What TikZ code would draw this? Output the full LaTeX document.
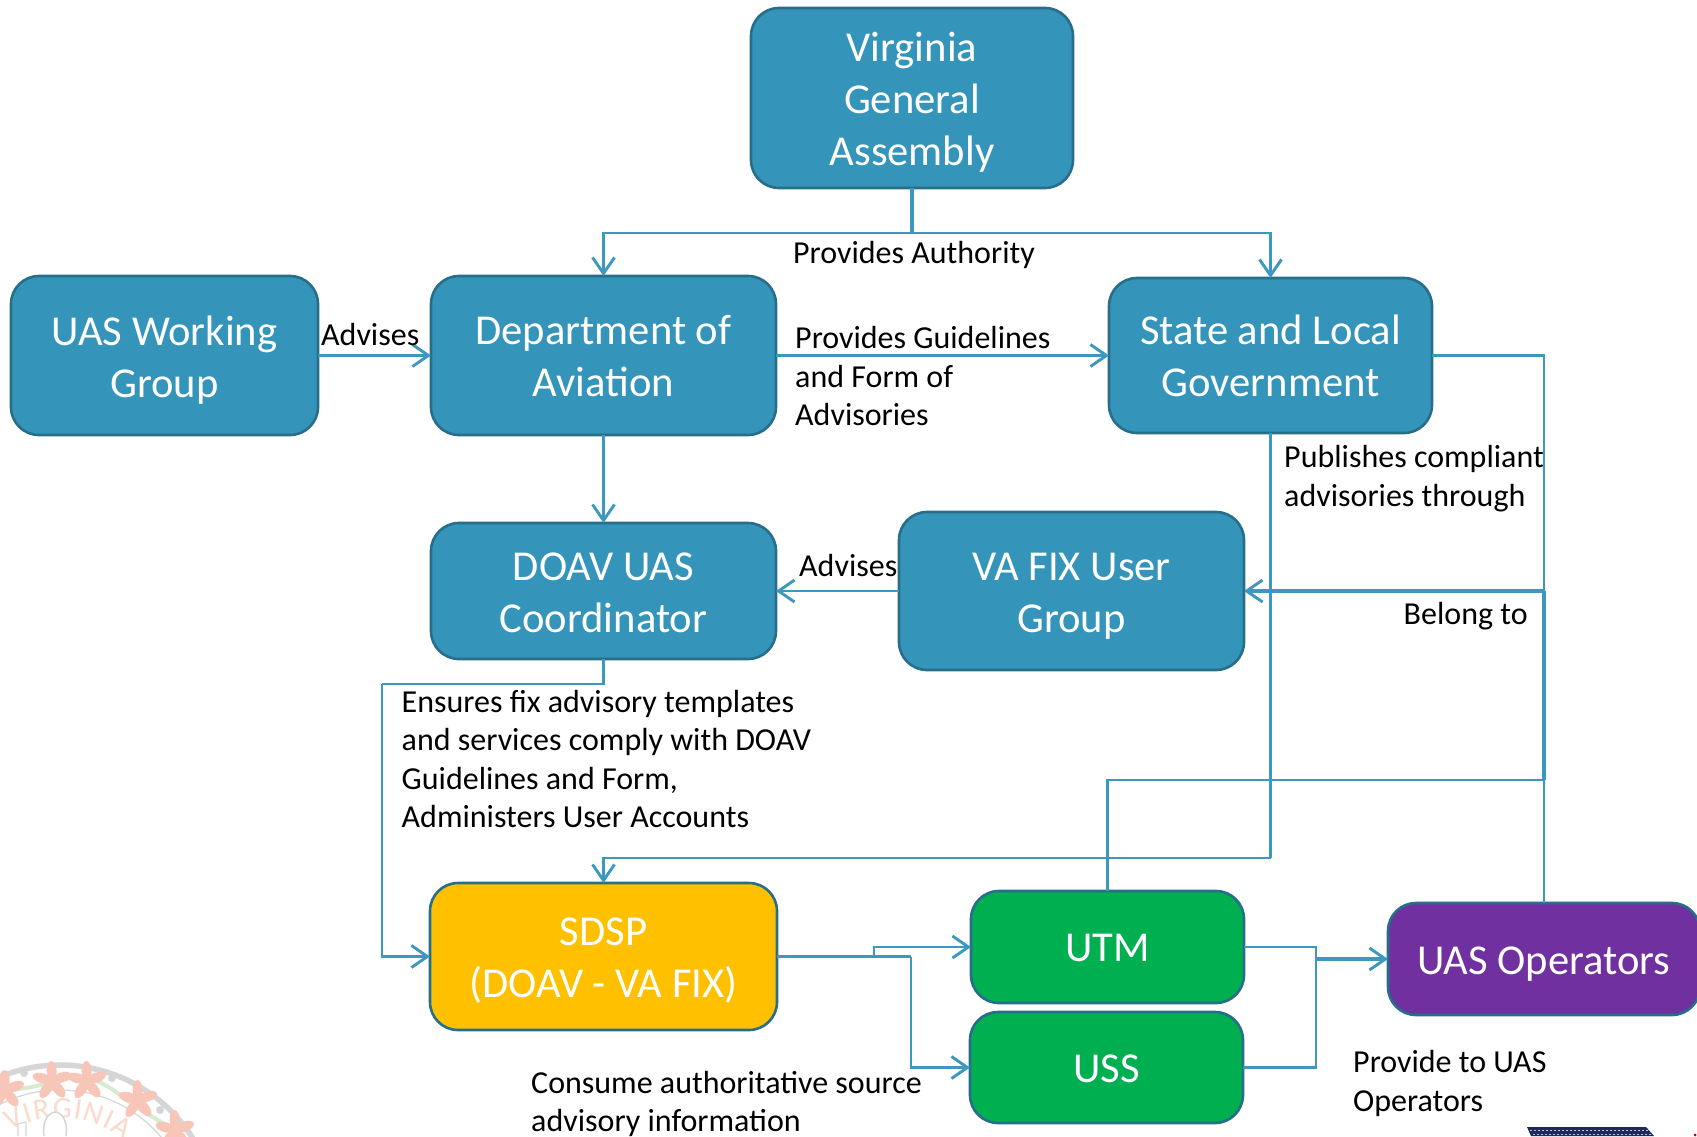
\documentclass[tikz,border=0pt]{standalone}
\usepackage{fontspec}
\setmainfont{Carlito}
\usetikzlibrary{arrows.meta,decorations.text}
\definecolor{boxblue}{HTML}{3494BA}
\definecolor{boxedge}{HTML}{276E8B}
\definecolor{sdspfill}{HTML}{FFC000}
\definecolor{utmfill}{HTML}{00B050}
\definecolor{opsfill}{HTML}{7030A0}
\definecolor{linkblue}{HTML}{3C98BE}
\definecolor{sealgrey}{HTML}{D6D6D6}
\definecolor{sealred}{HTML}{F8C6B8}
\definecolor{sealgreen}{HTML}{D6ECD0}
\definecolor{sealtext}{HTML}{FADBCB}
\definecolor{logonavy}{HTML}{1E2A5C}
\newcommand{\tdn}[2]{\raisebox{-#1pt}[\height][\depth]{\begin{tabular}{@{}c@{}}#2\end{tabular}}}
\tikzset{
  box/.style={draw=boxedge,fill=boxblue,line width=2.6pt,rounded corners=28pt,outer sep=0pt,
    text=white,align=center,font=\fontsize{42.6}{51.8}\selectfont},
  greenbox/.style={box,fill=utmfill},
  link/.style={draw=linkblue,line width=2.9pt},
  heavylink/.style={link,line width=3.9pt},
  arr/.style={link,-{Straight Barb[length=16pt,width=22pt,line width=2.9pt]}},
  lbl/.style={align=left,anchor=west,inner sep=0pt,text=black,font=\fontsize{32}{38.5}\selectfont},
}
\begin{document}
\begin{tikzpicture}[x=1pt,y=-1pt]
\useasboundingbox (0,0) rectangle (1697,1136);
\clip (0,0) rectangle (1697,1136);
\fill[white] (0,0) rectangle (1697,1136);

% seal, faded, bottom left
\draw[sealgrey,line width=5.5pt] (60,1222) circle[radius=157];
\draw[sealgrey,line width=1.2pt] (60,1222) circle[radius=132];
\foreach \aa/\ab in {-48/-26,-20/6,8/30,30/56}
  \draw[sealgreen,line width=4pt] plot[domain=\aa:\ab,samples=12] ({60+(142+4*sin(8*\x))*sin(\x)},{1222-(142+4*sin(8*\x))*cos(\x)});
\foreach \fx/\fy in {5/1090,52/1081,87/1081,138/1100,175/1130}
  \foreach \p in {20,92,164,236,308}
    \fill[sealred,shift={(\fx,\fy)},rotate=\p] (10,0) ellipse[x radius=10,y radius=5];
\foreach \bx/\by in {24/1073,112/1078,160/1110}
  \fill[sealgrey] (\bx,\by) circle[radius=4];
\path[decorate,decoration={text along path,text align={fit to path},
    text={|\fontsize{30}{30}\selectfont\color{sealtext}|VIRGINIA}}]
  plot[domain=-29:38,samples=30] ({60+104*sin(\x)},{1222-104*cos(\x)});
\draw[sealgrey,line width=1.5pt,fill=white] (44,1136) .. controls (42,1118) and (50,1112) .. (56,1112) .. controls (64,1114) and (68,1124) .. (66,1136);
\draw[sealgrey,line width=1.2pt] (18,1136) -- (18,1124) -- (26,1122) -- (26,1136);

% logo, cut off at the bottom right
\fill[logonavy] (1527,1127) -- (1646,1127) -- (1654,1136) -- (1531,1136) -- cycle;
\draw[white!70!logonavy,line width=1pt,dash pattern=on 2pt off 2pt] (1530,1130) -- (1648,1130);
\draw[white!70!logonavy,line width=1pt,dash pattern=on 2pt off 2pt] (1533,1134) -- (1651,1134);
\fill[red!70!black] (1695,1135) circle[radius=1.5];

% boxes
\node[box,minimum width=322pt,minimum height=180pt] (ga) at (912,98) {\tdn{5}{Virginia\\General\\Assembly}};
\node[box,minimum width=307pt,minimum height=159pt] (wg) at (164.5,355.5) {\tdn{5.5}{UAS Working\\Group}};
\node[box,minimum width=345pt,minimum height=159pt] (doa) at (603.5,355.5) {\tdn{5}{Department of\\Aviation}};
\node[box,minimum width=323pt,minimum height=155pt] (slg) at (1270.5,355.5) {\tdn{5}{State and Local\\Government}};
\node[box,minimum width=345pt,minimum height=136pt] (doav) at (603.5,591) {\tdn{5}{DOAV UAS\\Coordinator}};
\node[box,minimum width=345pt,minimum height=158pt] (fix) at (1071.5,591) {\tdn{5.5}{VA FIX User\\Group}};
\node[box,fill=sdspfill,minimum width=347pt,minimum height=147pt] (sdsp) at (603.5,956.5) {\tdn{5}{SDSP\\(DOAV - VA FIX)}};
\node[greenbox,minimum width=273pt,minimum height=112pt] (utm) at (1107.5,947) {\tdn{4}{UTM}};
\node[greenbox,minimum width=273pt,minimum height=111pt] (uss) at (1106.5,1067.5) {\tdn{5}{USS}};
\node[box,fill=opsfill,minimum width=312pt,minimum height=112pt] (ops) at (1544,959) {\tdn{5}{UAS Operators}};

% junctions
\coordinate (gasplit) at (912,233);
\coordinate (rightbus) at (1544,591);
\coordinate (lowerbus) at (1544,780);
\coordinate (slgdrop) at (1270.5,858);
\coordinate (doavdrop) at (603.5,684);
\coordinate (doavside) at (382,684);
\coordinate (sdspbranch) at (874,956.5);
\coordinate (sdspturn) at (911,956.5);
\coordinate (utmturn) at (1316,947);
\coordinate (ussturn) at (1316,1067.5);
\coordinate (opsfeed) at (1316,959);

% connectors
\draw[heavylink] (ga.south) -- (gasplit);
\draw[arr] (gasplit) -| (doa.north);
\draw[arr] (gasplit) -| (slg.north);
\draw[arr] (wg.east) -- (doa.west);
\draw[arr] (doa.east) -- (slg.west);
\draw[arr] (doa.south) -- (doav.north);
\draw[arr] (fix.west) -- (doav.east);
\draw[link] (doav.south) -- (doavdrop) -- (doavside);
\draw[arr] (doavside) |- (sdsp.west);
\draw[link] (slg.east) -| (rightbus);
\draw[arr,line width=3.6pt] (rightbus) -- (fix.east);
\draw[heavylink] (rightbus) -- (lowerbus);
\draw[link] (lowerbus) -| (utm.north);
\draw[link] (ops.north) -- (lowerbus);
\draw[link] (slg.south) -- (slgdrop);
\draw[arr] (slgdrop) -| (sdsp.north);
\draw[heavylink] (sdsp.east) -- (sdspbranch);
\draw[link] (sdspbranch) -- (sdspturn);
\draw[arr] (sdspturn) |- (uss.west);
\draw[arr] (sdspbranch) |- (utm.west);
\draw[link] (utm.east) -| (utmturn) -- (ussturn) -- (uss.east);
\draw[arr,line width=3.6pt] (opsfeed) -- (ops.west);

% labels
\node[lbl,anchor=center] (lauth) at (914,255) {Provides Authority};
\node[lbl] (ladv1) at (321,334) {Advises};
\node[lbl] (lguide) at (795,376) {Provides Guidelines\\and Form of\\Advisories};
\node[lbl] (lpub) at (1284,478.5) {Publishes compliant\\advisories through};
\node[lbl] (ladv2) at (799,565) {Advises};
\node[lbl] (lbelong) at (1403.5,616) {Belong to};
\node[lbl] (lensure) at (401.5,759) {Ensures fix advisory templates\\and services comply with DOAV\\Guidelines and Form,\\Administers User Accounts};
\node[lbl] (lconsume) at (531,1104) {Consume authoritative source\\advisory information};
\node[lbl] (lprovide) at (1353,1083.5) {Provide to UAS\\Operators};
\end{tikzpicture}
\end{document}
